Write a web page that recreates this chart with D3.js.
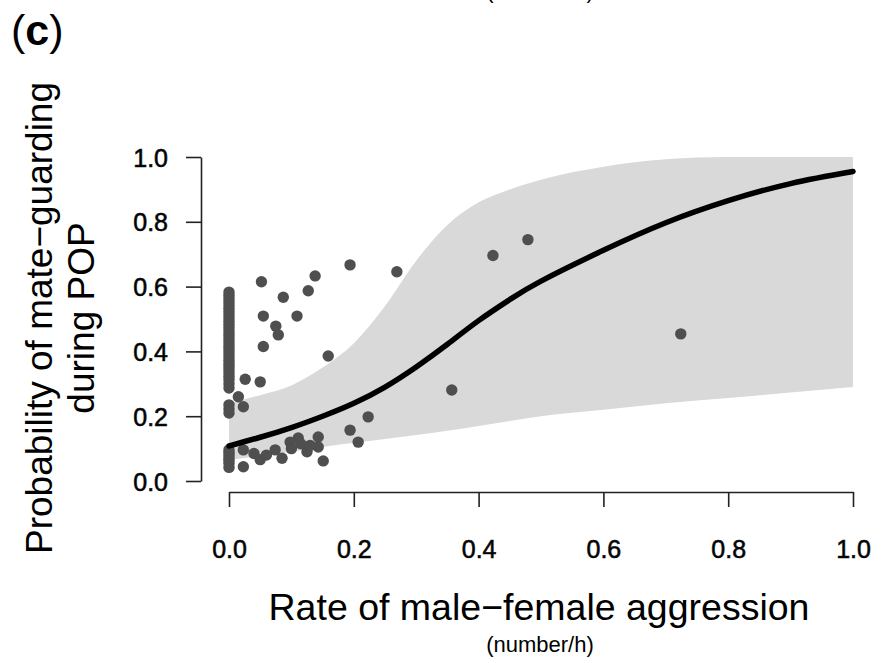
<!DOCTYPE html>
<html><head><meta charset="utf-8">
<script src="https://cdn.jsdelivr.net/npm/d3@7"></script>
<style>
html,body{margin:0;padding:0;background:#fff;}
svg text{font-family:"Liberation Sans",Arial,sans-serif;fill:#000;}
</style></head>
<body>
<svg id="chart" width="882" height="663"></svg>
<script>
// ---- data ----
const xTicks = [0, 0.2, 0.4, 0.6, 0.8, 1.0];
const yTicks = [0, 0.2, 0.4, 0.6, 0.8, 1.0];
const gridX   = [0,0.05,0.1,0.15,0.2,0.25,0.3,0.35,0.4,0.45,0.5,0.6,0.7,0.8,0.9,1.0];
const fitY    = [0.108,0.135,0.165,0.2,0.24,0.29,0.352,0.422,0.495,0.56,0.617,0.712,0.797,0.865,0.918,0.955];
const upperY  = [0.24,0.265,0.295,0.35,0.425,0.54,0.68,0.79,0.86,0.9,0.93,0.97,0.993,1.0,1.0,1.0];
const lowerY  = [0.065,0.077,0.09,0.105,0.118,0.13,0.142,0.155,0.17,0.185,0.2,0.22,0.24,0.256,0.273,0.29];
const pointX = [
  0,0,0,0,0,0,0,0,0,0,0,0,0,0,0,0,0,0,0,0,0,0,0,0,0,0,0,0,0,0,
  0,0,0, 0,0,0,0,0,0,0,
  0.052,0.138,0.194,0.269,0.087,0.127,0.055,0.109,0.075,0.079,0.055,0.159,0.026,0.05,0.015,0.023,0.223,
  0.357,0.423,0.479,0.724,
  0.023,0.023,0.05,0.074,0.085,0.098,0.111,0.125,0.143,0.143,0.151,0.194,0.207,0.06,0.10,0.13,0.04,0.115
];
const pointY = [
  0.583,0.573,0.563,0.553,0.543,0.533,0.523,0.513,0.503,0.493,0.483,0.473,0.463,0.453,0.443,0.433,0.423,0.413,0.403,0.393,0.383,0.373,0.363,0.353,0.343,0.333,0.323,0.313,0.300,0.287,
  0.235,0.222,0.21, 0.096,0.088,0.08,0.072,0.064,0.055,0.042,
  0.615,0.633,0.667,0.646,0.567,0.587,0.509,0.509,0.478,0.451,0.415,0.386,0.314,0.306,0.26,0.229,0.198,
  0.281,0.696,0.745,0.454,
  0.096,0.044,0.066,0.096,0.07,0.12,0.133,0.09,0.136,0.105,0.062,0.157,0.12,0.08,0.10,0.11,0.085,0.115
];

// ---- layout ----
const svg = d3.select("#chart");
const x = d3.scaleLinear().domain([0,1]).range([229,853]);
const y = d3.scaleLinear().domain([0,1]).range([481,157]);

// confidence band
const band = gridX.map((v,i)=>({x:v, lo:lowerY[i], hi:upperY[i], f:fitY[i]}));
svg.append("path")
  .datum(band)
  .attr("fill","#d9d9d9")
  .attr("d", d3.area().x(d=>x(d.x)).y0(d=>y(d.lo)).y1(d=>y(d.hi)).curve(d3.curveMonotoneX));

// points
svg.append("g").selectAll("circle")
  .data(pointX.map((v,i)=>({x:v,y:pointY[i]})))
  .join("circle")
  .attr("cx",d=>x(d.x)).attr("cy",d=>y(d.y)).attr("r",5.7)
  .attr("fill","#4f4f4f");

// fitted curve
svg.append("path")
  .datum(band)
  .attr("fill","none").attr("stroke","#000").attr("stroke-width",5.5)
  .attr("stroke-linecap","round")
  .attr("d", d3.line().x(d=>x(d.x)).y(d=>y(d.f)).curve(d3.curveNatural));

// axes
const fmt = d3.format(".1f");
const gy = svg.append("g").attr("transform","translate(201,0)")
  .call(d3.axisLeft(y).tickValues(yTicks).tickFormat(fmt).tickSize(15).tickSizeOuter(0).tickPadding(18));
const gx = svg.append("g").attr("transform","translate(0,492)")
  .call(d3.axisBottom(x).tickValues(xTicks).tickFormat(fmt).tickSize(15).tickSizeOuter(0).tickPadding(33));
[gy,gx].forEach(g=>{
  g.selectAll("path,line").attr("stroke","#222").attr("stroke-width",1.6);
  g.selectAll("text").attr("font-size",25).attr("fill","#111")
    .attr("stroke","#111").attr("stroke-width",0.6)
    .attr("font-family","'Liberation Sans',Arial,sans-serif");
});
gy.selectAll("text").attr("dy","0.36em");

// titles
svg.append("text").attr("x",539).attr("y",620).attr("text-anchor","middle")
  .attr("font-size",37.5).text("Rate of male\u2212female aggression");
svg.append("text").attr("x",540).attr("y",652).attr("text-anchor","middle")
  .attr("font-size",22).text("(number/h)");
svg.append("text").attr("transform","translate(52,318) rotate(-90)").attr("text-anchor","middle")
  .attr("font-size",37).text("Probability of mate\u2212guarding");
svg.append("text").attr("transform","translate(94,318) rotate(-90)").attr("text-anchor","middle")
  .attr("font-size",37).text("during POP");
const lab = svg.append("text").attr("x",11).attr("y",45).attr("font-size",43);
lab.append("tspan").text("(");
lab.append("tspan").attr("font-weight","bold").text("c");
lab.append("tspan").text(")");
svg.append("text").attr("x",540).attr("y",-2).attr("text-anchor","middle")
  .attr("font-size",22).text("(number/h)");
</script>
</body></html>
